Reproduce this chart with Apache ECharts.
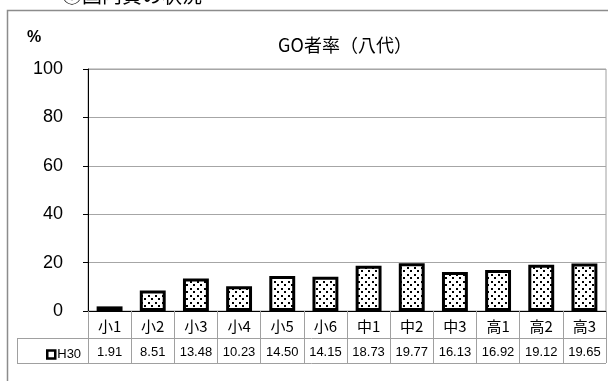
<!DOCTYPE html>
<html><head><meta charset="utf-8">
<script src="https://cdn.jsdelivr.net/npm/echarts@6/dist/echarts.min.js"></script>
<style>html,body{margin:0;padding:0;background:#fff}#c{width:608px;height:381px}</style>
</head><body><div id="c"></div>
<script>
const categories = ['小1','小2','小3','小4','小5','小6','中1','中2','中3','高1','高2','高3'];
const h30Values = [1.91, 8.51, 13.48, 10.23, 14.50, 14.15, 18.73, 19.77, 16.13, 16.92, 19.12, 19.65];
const seriesName = 'H30';
const yTicks = [0, 20, 40, 60, 80, 100];
const chartTitle = 'GO者率（八代）';
const unitLabel = '%';
const headingText = '⑥国内貨の状況';

// dotted pattern
const pc = document.createElement('canvas');
pc.width = 7; pc.height = 7;
const px = pc.getContext('2d');
px.fillStyle = '#fff'; px.fillRect(0,0,7,7);
px.fillStyle = '#000';
px.fillRect(1,1,2,2); px.fillRect(4,4,2,2);

const chart = echarts.init(document.getElementById('c'), null, {renderer:'canvas'});
const fmtVal = v => v.toFixed(2);
const table = {};
categories.forEach((c,i)=>{ table[c] = fmtVal(h30Values[i]); });

chart.setOption({
  animation:false,
  textStyle:{fontFamily:'Liberation Sans, Noto Sans CJK JP'},
  grid:{left:88, right:2, top:69, bottom:70, show:true, borderColor:'#a0a0a0', borderWidth:1},
  legend:{
    data:[{name:seriesName, itemStyle:{color:'#fff', borderColor:'#000', borderWidth:2.5}}],
    left:41, top:343, itemWidth:8, itemHeight:8, itemGap:2,
    icon:'rect', selectedMode:false,
    textStyle:{fontSize:13, color:'#000', fontFamily:'Liberation Sans', padding:[0,0,0,-3]}
  },
  xAxis:{
    type:'category', data:categories,
    axisLine:{lineStyle:{color:'#000', width:1}},
    axisTick:{show:true, interval:0, length:52, lineStyle:{color:'#a0a0a0'}},
    axisLabel:{
      interval:0, margin:2, color:'#000',
      formatter: (v)=> '{a|'+v+'}\n{b|'+table[v]+'}',
      rich:{
        a:{fontSize:15, lineHeight:26, fontFamily:'Noto Sans CJK JP', color:'#000'},
        b:{fontSize:13, lineHeight:26, fontFamily:'Liberation Sans', color:'#000'}
      }
    }
  },
  yAxis:{
    type:'value', min:0, max:100, interval:20,
    axisLine:{show:true, lineStyle:{color:'#000'}},
    axisTick:{show:true, length:5, lineStyle:{color:'#000'}},
    axisLabel:{fontSize:18, color:'#000', margin:25, fontFamily:'Liberation Sans',
      formatter:(v)=> yTicks.includes(v) ? String(v) : ''},
    splitLine:{lineStyle:{color:'#a6a6a6'}}
  },
  series:[{
    name:seriesName, type:'bar', data:h30Values, barWidth:'60%',
    itemStyle:{color:{image:pc, repeat:'repeat'}, borderColor:'#000', borderWidth:3}
  }],
  graphic:[
    {type:'rect', shape:{x:7.5, y:10.5, width:620, height:400}, style:{fill:null, stroke:'#8c8c8c', lineWidth:1.5}, silent:true, z:-1},
    {type:'text', x:62, y:5, style:{text:headingText, fontSize:20, fill:'#000', fontFamily:'Noto Sans CJK JP', textVerticalAlign:'bottom'}, silent:true},
    {type:'text', x:27, y:38, style:{text:unitLabel, fontSize:16, fontWeight:'bold', fill:'#000', fontFamily:'Liberation Sans', textVerticalAlign:'middle'}, silent:true},
    {type:'text', x:345, y:45, style:{text:chartTitle, fontSize:18, fill:'#000', fontFamily:'Noto Sans CJK JP', textAlign:'center', textVerticalAlign:'middle'}, silent:true},
    {type:'line', shape:{x1:17, y1:338.5, x2:606, y2:338.5}, style:{stroke:'#a0a0a0', lineWidth:1}, silent:true},
    {type:'line', shape:{x1:17, y1:363.5, x2:606, y2:363.5}, style:{stroke:'#a0a0a0', lineWidth:1}, silent:true},
    {type:'line', shape:{x1:17.5, y1:338, x2:17.5, y2:364}, style:{stroke:'#a0a0a0', lineWidth:1}, silent:true}
  ]
});
</script></body></html>
